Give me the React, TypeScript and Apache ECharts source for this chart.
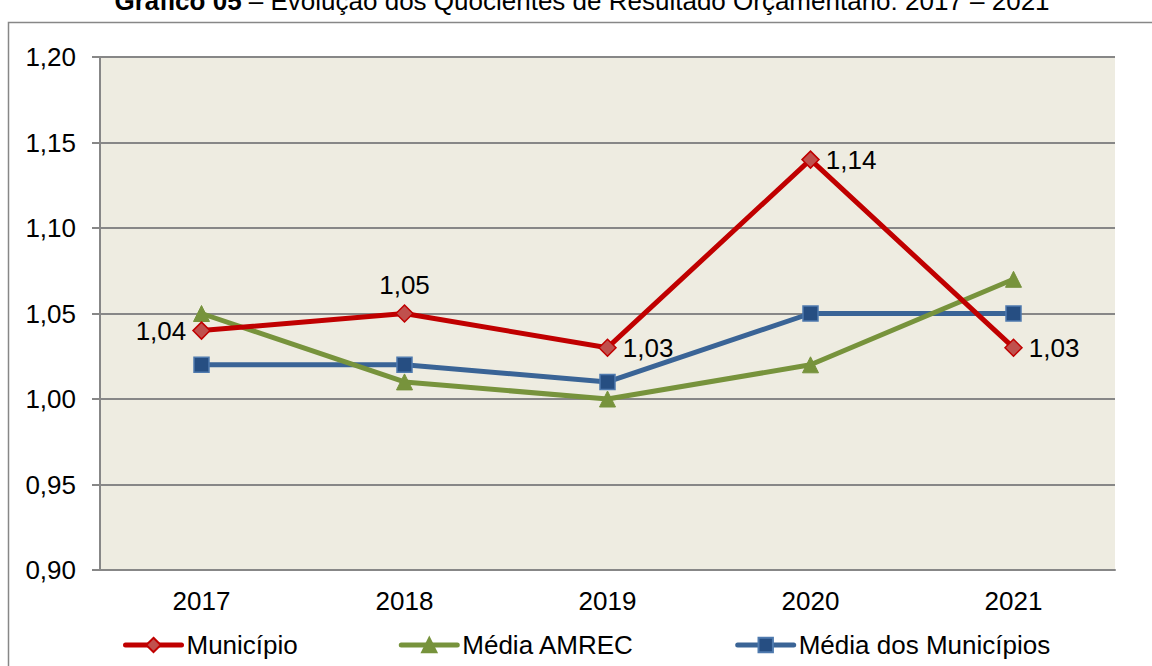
import React, { useEffect, useRef } from "react";
import * as echarts from "echarts";

const categories = ["2017", "2018", "2019", "2020", "2021"];
const municipio = [1.04, 1.05, 1.03, 1.14, 1.03];
const mediaAmrec = [1.05, 1.01, 1.0, 1.02, 1.07];
const mediaMunicipios = [1.02, 1.02, 1.01, 1.05, 1.05];
const municipioLabelPos = ["left", "top", "right", "right", "right"];

const FONT = "'Liberation Sans', Arial, sans-serif";
const fmt = (v: number) => v.toFixed(2).replace(".", ",");

export default function App() {
  const ref = useRef<HTMLDivElement>(null);
  useEffect(() => {
    document.body.style.margin = "0";
    const chart = echarts.init(ref.current!, undefined, { renderer: "svg" });
    const gray = "#878787";
    const legendLine = { width: 5, cap: "round" };
    chart.setOption({
      animation: false,
      backgroundColor: "#ffffff",
      textStyle: { fontFamily: FONT },
      title: {
        text: "{b|Gráfico 05} – Evolução dos Quocientes de Resultado Orçamentário: 2017 – 2021",
        left: 577,
        textAlign: "center",
        top: -17,
        textStyle: {
          fontFamily: FONT,
          fontSize: 26,
          fontWeight: "normal",
          color: "#000",
          rich: {
            b: { fontFamily: FONT, fontSize: 26, fontWeight: "bold", color: "#000" },
          },
        },
      },
      graphic: [
        {
          type: "rect",
          shape: { x: 8.5, y: 22.5, width: 1300, height: 800 },
          style: { fill: "none", stroke: gray, lineWidth: 1.5 },
          silent: true,
        },
      ],
      grid: {
        left: 100,
        top: 57,
        right: 37,
        bottom: 96,
        show: true,
        backgroundColor: "#EEECE1",
        borderWidth: 0,
      },
      legend: {
        left: 118,
        top: 627,
        itemWidth: 56,
        itemHeight: 18,
        itemGap: 101,
        textStyle: { fontFamily: FONT, fontSize: 26, color: "#000" },
        data: [
          { name: "Município", lineStyle: { ...legendLine, color: "#C00000" } },
          { name: "Média AMREC", lineStyle: { ...legendLine, color: "#77933C" } },
          { name: "Média dos Municípios", lineStyle: { ...legendLine, color: "#3A6496" } },
        ],
      },
      xAxis: {
        type: "category",
        data: categories,
        boundaryGap: true,
        axisLine: { show: true, lineStyle: { color: gray, width: 2 } },
        axisTick: { show: false },
        axisLabel: { fontFamily: FONT, fontSize: 26, color: "#000", margin: 18 },
      },
      yAxis: {
        type: "value",
        min: 0.9,
        max: 1.2,
        interval: 0.05,
        axisLine: { show: true, lineStyle: { color: gray, width: 2 } },
        axisTick: { show: true, length: 8, lineStyle: { color: gray, width: 2 } },
        splitLine: { show: true, lineStyle: { color: gray, width: 2 } },
        axisLabel: {
          fontFamily: FONT,
          fontSize: 26,
          color: "#000",
          margin: 24,
          formatter: (v: number) => fmt(v),
        },
      },
      series: [
        {
          name: "Município",
          type: "line",
          z: 4,
          data: municipio.map((v, i) => ({
            value: v,
            label: { position: municipioLabelPos[i] },
          })),
          symbol: "diamond",
          symbolSize: 17,
          lineStyle: { color: "#C00000", width: 5 },
          itemStyle: { color: "#C0504D", borderColor: "#C00000", borderWidth: 1.5 },
          label: {
            show: true,
            fontFamily: FONT,
            fontSize: 26,
            color: "#000",
            distance: 6,
            formatter: (p: any) => fmt(p.value),
          },
        },
        {
          name: "Média AMREC",
          type: "line",
          z: 3,
          data: mediaAmrec,
          symbol: "triangle",
          symbolSize: 16,
          lineStyle: { color: "#77933C", width: 5 },
          itemStyle: { color: "#77933C", borderColor: "#77933C", borderWidth: 1 },
        },
        {
          name: "Média dos Municípios",
          type: "line",
          z: 2,
          data: mediaMunicipios,
          symbol: "rect",
          symbolSize: 15,
          lineStyle: { color: "#3A6496", width: 5 },
          itemStyle: { color: "#264E82", borderColor: "#4F7AAE", borderWidth: 1.5 },
        },
      ],
    });
    return () => chart.dispose();
  }, []);
  return <div ref={ref} style={{ width: 1152, height: 666 }} />;
}
